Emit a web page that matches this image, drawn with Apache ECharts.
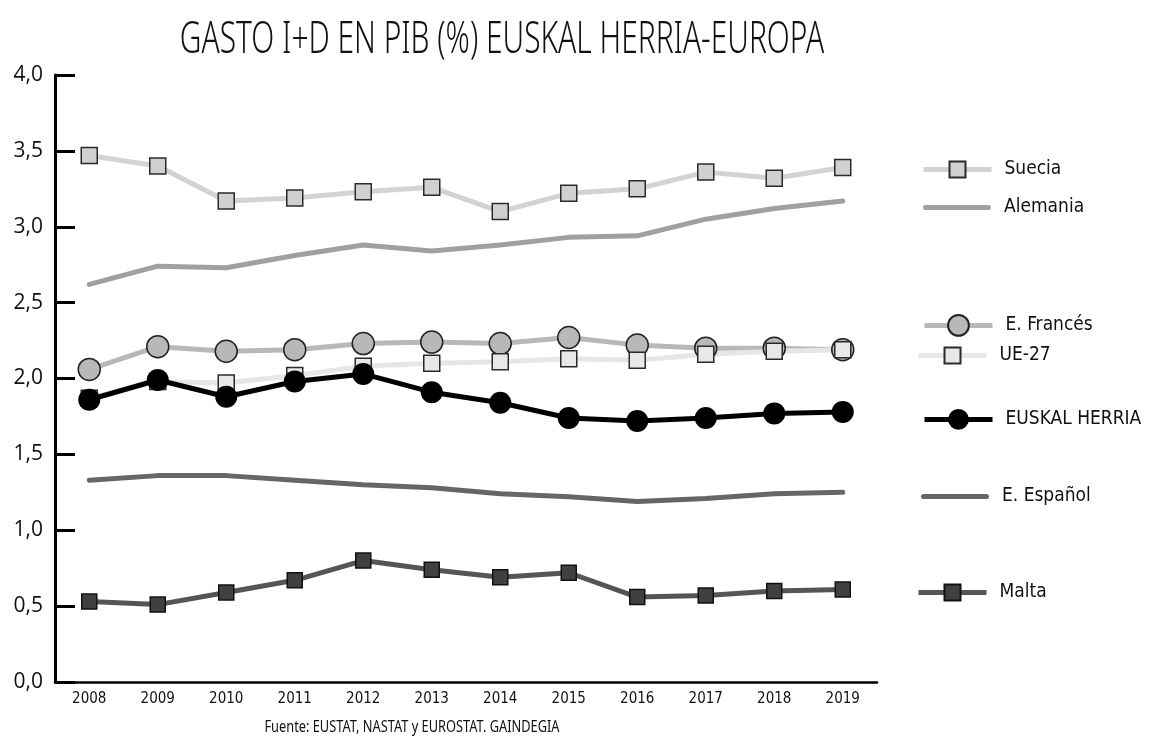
<!DOCTYPE html>
<html>
<head>
<meta charset="utf-8">
<title>Gasto I+D en PIB</title>
<script src="https://cdn.jsdelivr.net/npm/echarts@6/dist/echarts.min.js"></script>
<style>
  html, body { margin: 0; padding: 0; background: #fff; }
  #chart { width: 1151px; height: 737px; }
</style>
</head>
<body>
<div id="chart"></div>
<script>
// años
const years = ['2008', '2009', '2010', '2011', '2012', '2013', '2014', '2015', '2016', '2017', '2018', '2019'];
const yTicks = [0, 0.5, 1, 1.5, 2, 2.5, 3, 3.5, 4];

// % del PIB
const suecia = [3.47, 3.40, 3.17, 3.19, 3.23, 3.26, 3.10, 3.22, 3.25, 3.36, 3.32, 3.39];
const alemania = [2.62, 2.74, 2.73, 2.81, 2.88, 2.84, 2.88, 2.93, 2.94, 3.05, 3.12, 3.17];
const francia = [2.06, 2.21, 2.18, 2.19, 2.23, 2.24, 2.23, 2.27, 2.22, 2.20, 2.20, 2.19];
const ue27 = [1.87, 1.98, 1.97, 2.02, 2.08, 2.10, 2.11, 2.13, 2.12, 2.16, 2.18, 2.19];
const euskalHerria = [1.86, 1.99, 1.88, 1.98, 2.03, 1.91, 1.84, 1.74, 1.72, 1.74, 1.77, 1.78];
const espana = [1.33, 1.36, 1.36, 1.33, 1.30, 1.28, 1.24, 1.22, 1.19, 1.21, 1.24, 1.25];
const malta = [0.53, 0.51, 0.59, 0.67, 0.80, 0.74, 0.69, 0.72, 0.56, 0.57, 0.60, 0.61];

const narrow = '"Liberation Sans Narrow", "DejaVu Sans Condensed", Roboto, sans-serif';
// barra gruesa para las series sin marcador
const barIcon = 'path://M2.5,0 L65.5,0 A2.5,2.5 0 0 1 65.5,5 L2.5,5 A2.5,2.5 0 0 1 2.5,0 Z';

let chart = echarts.init(document.getElementById('chart'));

// cada leyenda va suelta, en su sitio
function legendAt(name, left, top, size, plain) {
    let lg = {
        data: [name],
        left: left,
        top: top,
        itemWidth: 68,
        itemHeight: size,
        itemGap: 0,
        lineStyle: {width: 5},
        textStyle: {
            fontFamily: narrow,
            fontSize: 19,
            color: '#111',
            padding: [0, 0, 0, 8]
        }
    }
    if (plain) {
        lg.data = [{name: name, icon: barIcon}]
        lg.itemHeight = 5
    }
    return lg
}

let option = {
    backgroundColor: '#fff',
    animation: false,
    graphic: [{
        type: 'text',
        x: 502,
        y: 40,
        scaleX: 0.68,
        style: {
            text: 'GASTO I+D EN PIB (%) EUSKAL HERRIA-EUROPA',
            fontFamily: '"Noto Sans", sans-serif',
            fontWeight: 300,
            fontSize: 44,
            fill: '#111',
            align: 'center',
            verticalAlign: 'middle'
        }
    }, {
        type: 'text',
        x: 412,
        y: 727,
        scaleX: 0.8,
        style: {
            text: 'Fuente: EUSTAT, NASTAT y EUROSTAT. GAINDEGIA',
            fontFamily: '"Noto Sans", sans-serif',
            fontSize: 16,
            fill: '#111',
            align: 'center',
            verticalAlign: 'middle'
        }
    }],
    legend: [
        legendAt('Suecia', 916, 155, 20),
        legendAt('Alemania', 918, 193, 5, true),
        legendAt('E. Francés', 917, 309, 26),
        legendAt('UE-27', 911, 341, 20),
        legendAt('EUSKAL HERRIA', 917, 404, 26),
        legendAt('E. Español', 916, 482, 5, true),
        legendAt('Malta', 911, 578, 20)
    ],
    grid: {
        left: 55,
        right: 274,
        top: 75,
        bottom: 55
    },
    xAxis: {
        type: 'category',
        data: years,
        boundaryGap: true,
        axisLine: {lineStyle: {color: '#000', width: 2.5}},
        axisTick: {inside: true, length: 15, lineStyle: {color: '#000', width: 2.5}},
        axisLabel: {
            margin: 10,
            fontFamily: narrow,
            fontSize: 15,
            color: '#111'
        }
    },
    yAxis: {
        type: 'value',
        min: yTicks[0],
        max: yTicks[yTicks.length - 1],
        interval: 0.5,
        splitLine: {show: false},
        axisLine: {show: true, lineStyle: {color: '#000', width: 3}},
        axisTick: {show: true, inside: true, length: 20, lineStyle: {color: '#000', width: 3}},
        axisLabel: {
            margin: 12,
            fontFamily: '"Open Sans", "Noto Sans", sans-serif',
            fontSize: 21,
            color: '#111',
            formatter: function (v) {
                return v.toFixed(1).replace('.', ',')
            }
        }
    },
    series: [{
        name: 'Suecia',
        type: 'line',
        data: suecia,
        symbol: 'rect',
        symbolSize: 16,
        lineStyle: {color: '#d3d3d3', width: 5},
        itemStyle: {color: '#d0d0d0', borderColor: '#2a2a2a', borderWidth: 1.5}
    }, {
        name: 'Alemania',
        type: 'line',
        data: alemania,
        symbol: 'none',
        lineStyle: {color: '#a0a0a0', width: 5, cap: 'round'},
        itemStyle: {color: '#a0a0a0'}
    }, {
        name: 'E. Francés',
        type: 'line',
        data: francia,
        symbol: 'circle',
        symbolSize: 22,
        lineStyle: {color: '#b8b8b8', width: 5},
        itemStyle: {color: '#b8b8b8', borderColor: '#222', borderWidth: 1.5}
    }, {
        name: 'UE-27',
        type: 'line',
        data: ue27,
        symbol: 'rect',
        symbolSize: 16,
        lineStyle: {color: '#e6e6e6', width: 5},
        itemStyle: {color: '#e8e8e8', borderColor: '#2a2a2a', borderWidth: 1.5}
    }, {
        name: 'EUSKAL HERRIA',
        type: 'line',
        data: euskalHerria,
        symbol: 'circle',
        symbolSize: 22,
        lineStyle: {color: '#000', width: 5},
        itemStyle: {color: '#000'}
    }, {
        name: 'E. Español',
        type: 'line',
        data: espana,
        symbol: 'none',
        lineStyle: {color: '#666', width: 5, cap: 'round'},
        itemStyle: {color: '#666'}
    }, {
        name: 'Malta',
        type: 'line',
        data: malta,
        symbol: 'rect',
        symbolSize: 15,
        lineStyle: {color: '#555', width: 5},
        itemStyle: {color: '#404040', borderColor: '#111', borderWidth: 1.5}
    }]
};
chart.setOption(option);
</script>
</body>
</html>
